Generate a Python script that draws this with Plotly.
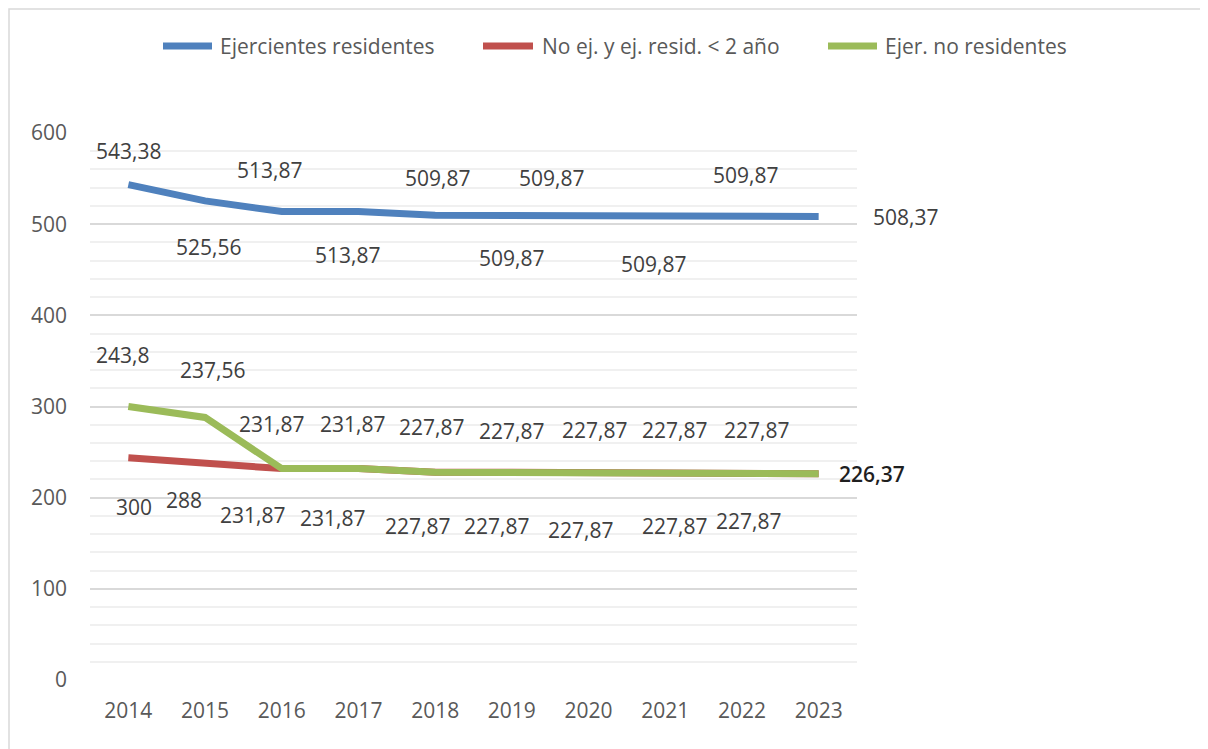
import plotly.graph_objects as go

years = ["2014", "2015", "2016", "2017", "2018", "2019", "2020", "2021", "2022", "2023"]

ejercientes_residentes = [543.38, 525.56, 513.87, 513.87, 509.87, 509.87, 509.87, 509.87, 509.87, 508.37]
no_ej_resid_2 = [243.8, 237.56, 231.87, 231.87, 227.87, 227.87, 227.87, 227.87, 227.87, 226.37]
ejer_no_residentes = [300, 288, 231.87, 231.87, 227.87, 227.87, 227.87, 227.87, 227.87, 226.37]

series_names = ["Ejercientes residentes", "No ej. y ej. resid. < 2 año", "Ejer. no residentes"]
series_colors = ["#4f81bd", "#c0504d", "#9bbb59"]

# where each data label sits relative to its point (pixels: dx, dy with dy up)
blue_offsets = [(0, 34), (3, -46), (-12, 42), (-11, -43), (2, 37), (0, -43),
                (-37, 37), (-12, -49), (4, 40), (87, 0)]
red_offsets = [(-6, 103), (7, 93), (-10, 45), (-6, 45), (-4, 45), (0, 41),
               (6, 42), (9, 42), (15, 42), (53, 0)]
green_offsets = [(6, -100), (-21, -83), (-29, -46), (-26, -49), (-18, -54),
                 (-15, -54), (-8, -58), (9, -54), (7, -49), None]

# plot area in page pixels (the page adds an 8px body margin)
FIG_W, FIG_H = 1200, 741
L, T, W, H = 82, 125, 767, 547


def px_x(p):
    return (p - 8 - L) / W


def px_y(p):
    return 1 - (p - 8 - T) / H


def fmt(v):
    s = f"{v:.2f}".rstrip("0").rstrip(".")
    return s.replace(".", ",")


fig = go.Figure()
all_series = [ejercientes_residentes, no_ej_resid_2, ejer_no_residentes]
for name, values, color in zip(series_names, all_series, series_colors):
    fig.add_trace(go.Scatter(
        x=list(range(len(years))), y=values, name=name, mode="lines",
        line=dict(color=color, width=7), showlegend=False,
    ))

annotations = []
for values, offsets in zip(all_series, [blue_offsets, red_offsets, green_offsets]):
    for i, v in enumerate(values):
        off = offsets[i]
        if off is None:
            continue
        last_low = values is no_ej_resid_2 and i == len(values) - 1
        annotations.append(dict(
            x=i, y=v, text=fmt(v),
            showarrow=False, xshift=off[0], yshift=off[1],
            font=dict(size=21, color="#1f1f1f" if last_low else "#404040",
                      weight=600 if last_low else 400),
        ))

# legend drawn by hand to match the Excel layout
shapes = []
legend_pos = [(163, 212, 218), (483, 533, 540), (828, 877, 883)]
for name, color, (s0, s1, tx) in zip(series_names, series_colors, legend_pos):
    shapes.append(dict(
        type="line", xref="paper", yref="paper",
        x0=px_x(s0), x1=px_x(s1), y0=px_y(46), y1=px_y(46),
        line=dict(color=color, width=7),
    ))
    annotations.append(dict(
        x=px_x(tx), y=px_y(46), xref="paper", yref="paper", text=name,
        xanchor="left", yanchor="middle", showarrow=False,
        font=dict(size=21, color="#595959"),
    ))

shapes.append(dict(
    type="rect", xref="paper", yref="paper",
    x0=px_x(9), x1=px_x(1240), y0=px_y(790), y1=px_y(9),
    line=dict(color="#d9d9d9", width=1.5), layer="below",
))

fig.update_layout(
    width=FIG_W, height=FIG_H,
    margin=dict(l=L, r=FIG_W - L - W, t=T, b=FIG_H - T - H),
    plot_bgcolor="white", paper_bgcolor="white",
    font=dict(family="Open Sans", size=21, color="#595959"),
    annotations=annotations,
    shapes=shapes,
)

fig.update_xaxes(
    range=[-0.5, 9.5], tickmode="array",
    tickvals=list(range(len(years))), ticktext=years,
    showgrid=False, showline=False, zeroline=False,
    ticks="", tickfont=dict(size=21, color="#595959"), ticklabelstandoff=16,
)
fig.update_yaxes(
    range=[0, 600], dtick=100, showgrid=True, gridcolor="#d9d9d9", gridwidth=1.5,
    zeroline=False, showline=False, ticks="",
    tickfont=dict(size=21, color="#595959"), ticklabelstandoff=22,
    minor=dict(dtick=20, showgrid=True, gridcolor="#f0f0f0", gridwidth=1.5),
)

fig.write_html("out.html")
